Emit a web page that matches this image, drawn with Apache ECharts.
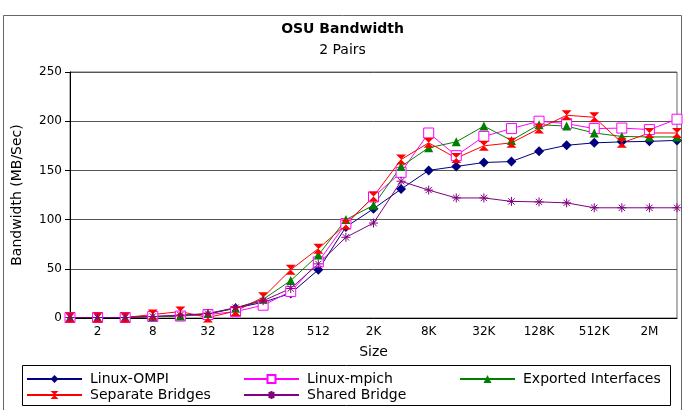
<!DOCTYPE html>
<html>
<head>
<meta charset="utf-8">
<script src="https://cdn.jsdelivr.net/npm/echarts@6/dist/echarts.min.js"></script>
<style>
  html, body { margin: 0; padding: 0; background: #fff; }
  #chart { width: 685px; height: 410px; }
</style>
</head>
<body>
<div id="chart"></div>
<script>
// message sizes
const sizes = ['1', '2', '4', '8', '16', '32', '64', '128', '256', '512', '1K', '2K', '4K',
  '8K', '16K', '32K', '64K', '128K', '256K', '512K', '1M', '2M', '4M']

// bandwidth (MB/Sec)
const linuxOmpi = [0.5, 0.5, 0.5, 1.5, 2, 4, 10, 16, 25, 49, 92.5, 111, 131, 150, 154, 158, 159, 169.5, 175.5, 178, 179, 179.5, 180.5]
const linuxMpich = [0.5, 0.5, 0.5, 1.5, 2, 3.5, 6.5, 13, 27, 57, 96, 123, 148, 188, 165, 184.5, 192.5, 200, 197.5, 192.5, 193, 191.5, 202]
const exported = [0.5, 0.5, 0.5, 1.5, 2, 4.5, 10, 19, 38, 64, 100, 114.5, 154, 173, 179, 195, 180.5, 196.5, 195, 188, 184.5, 184, 184]
const separate = [0.5, 0.5, 0.5, 3.5, 6.5, 0.5, 7, 21, 49, 70.5, 95, 123.5, 161, 178, 162.5, 175, 178, 192.5, 206, 204, 178, 188, 188]
const shared = [0.5, 0.5, 0.5, 1.5, 3, 4.5, 10.5, 17.5, 30, 55, 82, 96.5, 139, 130, 122, 122, 118.5, 118, 117, 112, 112, 112, 112]

const yTicks = { min: 0, max: 250, interval: 50 }

const font = 'DejaVu Sans'
const hourglass = 'path://M0,0 L10,0 L5,5 L10,10 L0,10 L5,5 Z'
const asterisk = 'path://M5,0 L5,10 M0,5 L10,5 M1.5,1.5 L8.5,8.5 M8.5,1.5 L1.5,8.5'

function line(name, data, color, symbol, size, extra) {
  return Object.assign({
    name: name,
    type: 'line',
    data: data,
    symbol: symbol,
    symbolSize: size,
    lineStyle: { color: color, width: 1 },
    itemStyle: { color: color },
    emphasis: { disabled: true }
  }, extra || {})
}

const chart = echarts.init(document.getElementById('chart'))

const legendCommon = {
  orient: 'vertical',
  top: 372,
  height: 36,
  padding: 0,
  itemWidth: 55,
  itemHeight: 10,
  itemGap: 2,
  textStyle: { fontFamily: font, fontSize: 14, color: '#000', lineHeight: 14, padding: [0, 0, 0, 3] },
  selectedMode: false
}

chart.setOption({
  backgroundColor: '#fff',
  animation: false,
  title: {
    text: 'OSU Bandwidth',
    subtext: '2 Pairs',
    left: 'center',
    top: 17,
    itemGap: 7,
    textStyle: { fontFamily: font, fontSize: 14, fontWeight: 'bold', color: '#000' },
    subtextStyle: { fontFamily: font, fontSize: 14, color: '#000' }
  },
  graphic: [
    { type: 'rect', shape: { x: 3.5, y: 15.5, width: 678, height: 400 }, style: { fill: null, stroke: '#666', lineWidth: 1 }, silent: true },
    { type: 'rect', shape: { x: 22.5, y: 365.5, width: 648, height: 40 }, style: { fill: null, stroke: '#000', lineWidth: 1 }, silent: true }
  ],
  legend: [
    Object.assign({ left: 26, data: ['Linux-OMPI', 'Separate Bridges'] }, legendCommon),
    Object.assign({ left: 243, data: ['Linux-mpich', 'Shared Bridge'] }, legendCommon),
    Object.assign({ left: 459, data: ['Exported Interfaces'] }, legendCommon)
  ],
  grid: {
    left: 70,
    right: 8,
    top: 72,
    bottom: 92,
    show: true,
    borderColor: '#666',
    borderWidth: 1
  },
  xAxis: {
    type: 'category',
    data: sizes,
    boundaryGap: false,
    name: 'Size',
    nameLocation: 'middle',
    nameGap: 27,
    nameTextStyle: { fontFamily: font, fontSize: 14, color: '#000' },
    axisLine: { lineStyle: { color: '#000' } },
    axisTick: { show: false },
    axisLabel: {
      interval: function (index) { return index % 2 === 1 },
      fontFamily: font, fontSize: 12, color: '#000', margin: 8
    },
    splitLine: { show: false }
  },
  yAxis: {
    type: 'value',
    min: yTicks.min,
    max: yTicks.max,
    interval: yTicks.interval,
    name: 'Bandwidth (MB/Sec)',
    nameLocation: 'middle',
    nameGap: 46,
    nameTextStyle: { fontFamily: font, fontSize: 14, color: '#000' },
    axisLine: { show: true, lineStyle: { color: '#000' } },
    axisTick: { show: true, length: 5, lineStyle: { color: '#000' } },
    axisLabel: { fontFamily: font, fontSize: 12, color: '#000', margin: 8 },
    splitLine: { lineStyle: { color: '#555', width: 1 } }
  },
  series: [
    line('Linux-OMPI', linuxOmpi, '#000080', 'diamond', 10),
    line('Linux-mpich', linuxMpich, '#ff00ff', 'rect', 10, {
      itemStyle: { color: '#fff', borderColor: '#ff00ff', borderWidth: 1 }
    }),
    line('Exported Interfaces', exported, '#008000', 'triangle', 9),
    line('Separate Bridges', separate, '#ff0000', hourglass, 10),
    line('Shared Bridge', shared, '#800080', asterisk, 9, {
      itemStyle: { color: '#800080', borderColor: '#800080', borderWidth: 1 }
    })
  ]
})
</script>
</body>
</html>
